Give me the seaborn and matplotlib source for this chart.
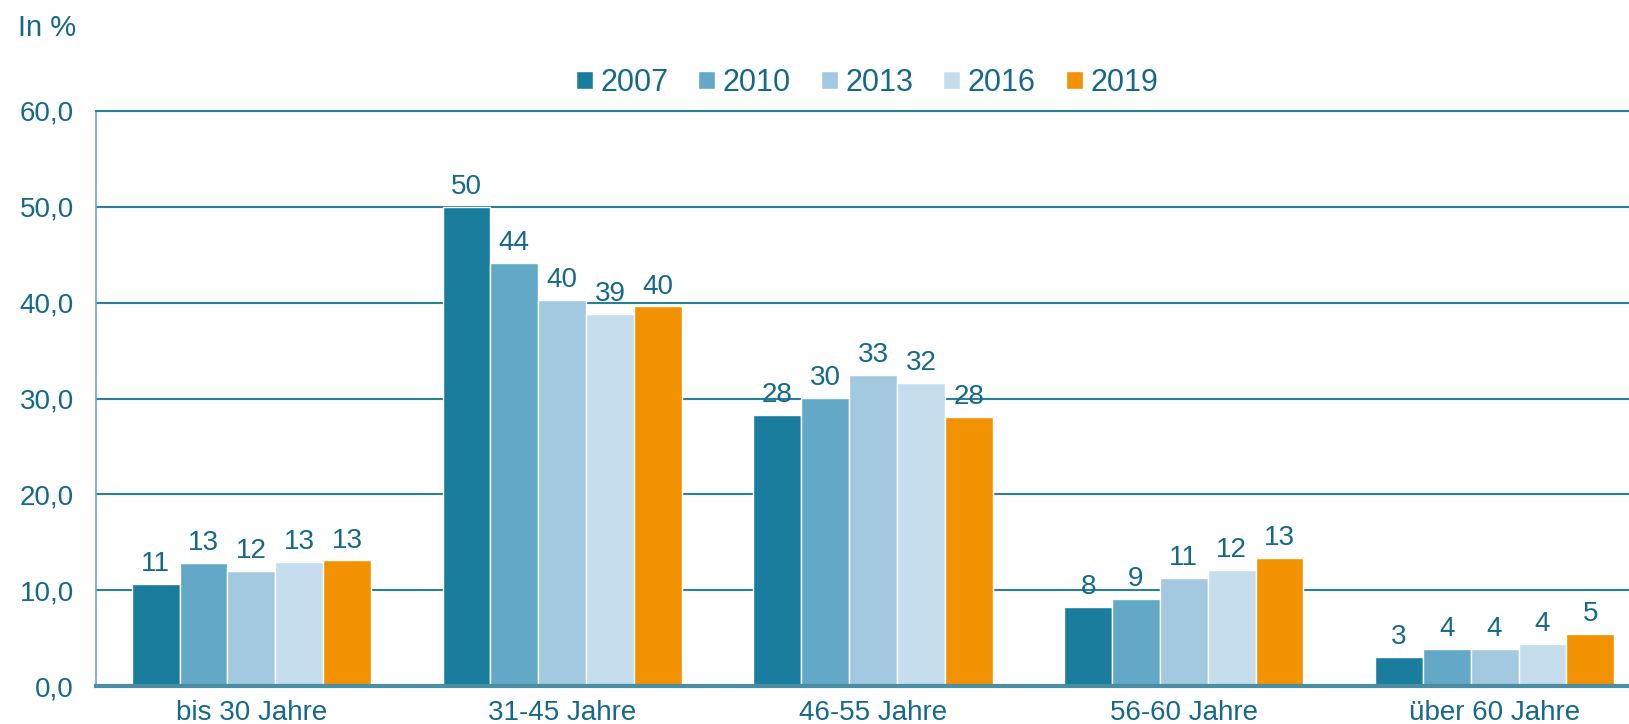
import pandas as pd
import seaborn as sns
import matplotlib.pyplot as plt
from matplotlib.ticker import FuncFormatter

# values (percent)
age_groups = ['bis 30 Jahre', '31-45 Jahre', '46-55 Jahre', '56-60 Jahre', 'über 60 Jahre']
years = ['2007', '2010', '2013', '2016', '2019']
v2007 = [10.6, 50.0, 28.3, 8.2, 3.0]
v2010 = [12.8, 44.1, 30.1, 9.1, 3.9]
v2013 = [12.0, 40.3, 32.5, 11.3, 3.9]
v2016 = [12.9, 38.8, 31.6, 12.1, 4.4]
v2019 = [13.1, 39.6, 28.1, 13.4, 5.4]
colors = ['#1b7d9e', '#64a8c8', '#a2c9df', '#c6dded', '#f39200']

text_col = '#15698a'
line_col = '#2a7f9a'

rows = []
for year, vals in zip(years, [v2007, v2010, v2013, v2016, v2019]):
    for grp, v in zip(age_groups, vals):
        rows.append({'Alter': grp, 'Jahr': year, 'Anteil': v})
df = pd.DataFrame(rows)

sns.set_style('white')
plt.rcParams['font.family'] = ['Liberation Sans', 'DejaVu Sans']

fig = plt.figure(figsize=(16.29, 7.24), dpi=100)
ax = fig.add_axes([96 / 1629, 1 - 686 / 724, 1554 / 1629, (686 - 111) / 724])

sns.barplot(data=df, x='Alter', y='Anteil', hue='Jahr', order=age_groups,
            hue_order=years, palette=colors, saturation=1, width=0.77,
            edgecolor='white', linewidth=1, errorbar=None, ax=ax)

for cont in ax.containers:
    labels = [f'{round(b.get_height() + 1e-9):d}' for b in cont]
    ax.bar_label(cont, labels=labels, padding=5, fontsize=20, color=text_col)

ax.set_ylim(0, 60)
ax.set_yticks(range(0, 61, 10))
ax.yaxis.set_major_formatter(FuncFormatter(lambda v, p: f'{v:.1f}'.replace('.', ',')))
ax.set_xlabel('')
ax.set_ylabel('')
ax.tick_params(axis='both', length=0, labelsize=20, labelcolor=text_col)
ax.tick_params(axis='y', pad=16)
ax.tick_params(axis='x', pad=10)

ax.set_axisbelow(True)
ax.yaxis.grid(True, color=line_col, linewidth=1.5)
ax.xaxis.grid(False)
ax.spines['right'].set_visible(False)
ax.spines['top'].set_color(line_col)
ax.spines['top'].set_linewidth(1.5)
ax.spines['left'].set_color('#6fa8bd')
ax.spines['left'].set_linewidth(1.2)
ax.spines['bottom'].set_color('#4a8ea3')
ax.spines['bottom'].set_linewidth(3)

handles, labels = ax.get_legend_handles_labels()
ax.get_legend().remove()
leg = fig.legend(handles, labels, loc='center', bbox_to_anchor=(867 / 1629, 1 - 83 / 724),
                 ncol=5, frameon=False, fontsize=22, handlelength=0.55, handleheight=0.55,
                 handletextpad=0.25, columnspacing=0.98)
for t in leg.get_texts():
    t.set_color(text_col)

fig.text(18 / 1629, 1 - 28 / 724, 'In %', ha='left', va='center', fontsize=21, color=text_col)

fig.savefig('out.png', dpi=100)
